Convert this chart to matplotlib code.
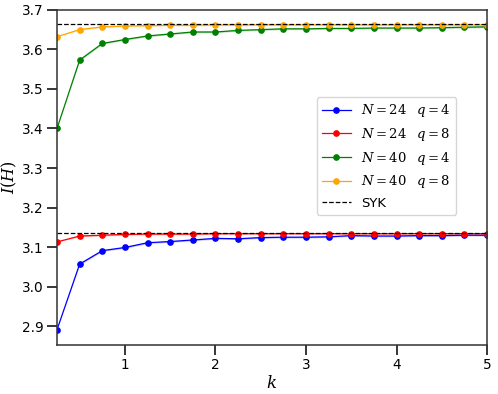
import matplotlib
matplotlib.use("Agg")
import matplotlib.pyplot as plt
import numpy as np

plt.rcParams['mathtext.fontset'] = 'dejavuserif'

k = [0.25, 0.5, 0.75, 1.0, 1.25, 1.5, 1.75, 2.0, 2.25, 2.5,
     2.75, 3.0, 3.25, 3.5, 3.75, 4.0, 4.25, 4.5, 4.75, 5.0]

n24_q4 = [2.891, 3.057, 3.091, 3.099, 3.111, 3.114, 3.118, 3.122, 3.121, 3.124,
          3.125, 3.125, 3.126, 3.129, 3.128, 3.128, 3.129, 3.129, 3.130, 3.130]
n24_q8 = [3.113, 3.128, 3.130, 3.132, 3.133, 3.133, 3.133, 3.134, 3.134, 3.134,
          3.134, 3.134, 3.134, 3.134, 3.134, 3.134, 3.134, 3.134, 3.134, 3.134]
n40_q4 = [3.400, 3.573, 3.615, 3.625, 3.634, 3.639, 3.644, 3.644, 3.648, 3.650,
          3.652, 3.652, 3.653, 3.653, 3.654, 3.654, 3.654, 3.655, 3.656, 3.657]
n40_q8 = [3.632, 3.650, 3.657, 3.659, 3.660, 3.661, 3.661, 3.662, 3.662, 3.662,
          3.662, 3.662, 3.662, 3.662, 3.662, 3.662, 3.662, 3.662, 3.662, 3.662]
# rough error band half-widths
err = [0.0, 0.002, 0.002, 0.002, 0.002, 0.002, 0.002, 0.002, 0.002, 0.002,
       0.002, 0.002, 0.002, 0.002, 0.002, 0.002, 0.002, 0.002, 0.002, 0.002]

syk = [3.136, 3.664]

series = [
    (n24_q4, 'blue', r'$N=24\;\;\; q=4$'),
    (n24_q8, 'red', r'$N=24\;\;\; q=8$'),
    (n40_q4, 'green', r'$N=40\;\;\; q=4$'),
    (n40_q8, 'orange', r'$N=40\;\;\; q=8$'),
]

fig = plt.figure(figsize=(4.98, 3.94), dpi=100)
ax = fig.add_axes([0.1145, 0.124, 0.8635, 0.851])

for vals, col, lab in series:
    ax.plot(k, vals, '-o', color=col, lw=0.9, ms=3.8, label=lab)
    v = np.array(vals)
    e = np.array(err)
    ax.fill_between(k, v - e, v + e, color=col, alpha=0.25, lw=0)

for i, s in enumerate(syk):
    ax.axhline(s, color='black', ls='--', lw=0.9, label='SYK' if i == 0 else None)

ax.set_xlim(0.25, 5)
ax.set_ylim(2.852, 3.7)
ax.set_xticks([1, 2, 3, 4, 5])
ax.set_yticks([2.9, 3.0, 3.1, 3.2, 3.3, 3.4, 3.5, 3.6, 3.7])
ax.tick_params(direction='out', length=7.5, width=1.1, labelsize=9.8, pad=2)
for sp in ax.spines.values():
    sp.set_color('#333333')
    sp.set_linewidth(1.1)

ax.set_xlabel(r'$k$', fontsize=12, labelpad=1)
ax.set_ylabel(r'$I(H)$', fontsize=11.5, labelpad=2)

ax.legend(loc='center right', bbox_to_anchor=(0.944, 0.564), fontsize=9.5,
          handlelength=2.2, framealpha=0.8)

fig.savefig('out.png', dpi=100)
